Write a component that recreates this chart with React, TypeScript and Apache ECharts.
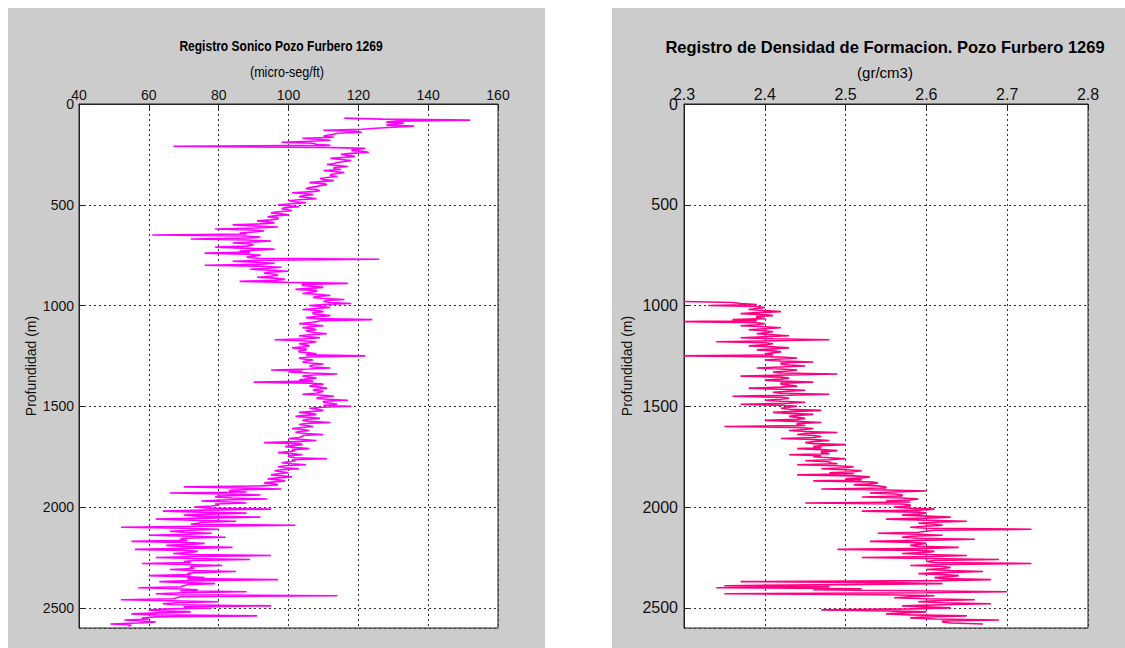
import React, { useEffect, useRef } from "react";
import * as echarts from "echarts";

// Sonic log (micro-seg/ft), sampled every 5 m starting at 70 m
const SONIC_START_DEPTH = 70;
const SONIC_STEP = 5;
const sonicValues = [
  116, 127, 152, 131, 128, 133,
  131, 128, 136, 130, 125, 121, 110, 119, 121, 114, 113, 111, 110, 113, 104, 108, 112, 106, 98, 107,
  108, 112, 67, 110, 122, 119, 118, 121, 123, 118, 115, 117, 119, 116, 112, 115, 118, 116, 114, 113,
  111, 114, 117, 113, 113, 115, 110, 113, 116, 114, 112, 112, 114, 111, 109, 110, 113, 109, 106, 110,
  111, 109, 108, 106, 105, 108, 109, 107, 101, 105, 107, 104, 103, 106, 108, 103, 100, 102, 105, 101,
  97, 100, 103, 99, 98, 100, 101, 97, 95, 98, 100, 96, 94, 97, 97, 95, 91, 94, 96, 92,
  84, 90, 97, 91, 79, 89, 93, 90, 86, 88, 61, 87, 92, 89, 72, 88, 95, 90, 84, 89,
  90, 88, 79, 87, 96, 90, 86, 89, 76, 88, 92, 90, 88, 91, 126, 93, 84, 91, 96, 92,
  76, 92, 98, 94, 89, 95, 100, 94, 93, 96, 97, 95, 91, 97, 99, 96, 86, 100, 117, 104,
  104, 107, 110, 106, 102, 108, 108, 106, 104, 109, 112, 108, 107, 110, 116, 111, 110, 112, 118, 110,
  106, 109, 112, 108, 104, 108, 110, 107, 107, 109, 112, 108, 105, 108, 124, 109, 108, 106, 103, 107,
  110, 106, 104, 107, 108, 105, 106, 108, 111, 106, 103, 106, 109, 105, 96, 104, 108, 106, 103, 105,
  106, 104, 101, 105, 105, 103, 103, 106, 108, 105, 122, 106, 103, 104, 107, 105, 104, 106, 110, 107,
  106, 107, 112, 106, 95, 104, 100, 106, 114, 107, 104, 106, 108, 105, 103, 107, 90, 106, 110, 107,
  106, 109, 111, 108, 107, 110, 109, 108, 104, 110, 113, 109, 108, 111, 117, 110, 110, 112, 114, 110,
  118, 110, 106, 108, 110, 107, 103, 106, 108, 105, 102, 106, 109, 105, 104, 106, 112, 105, 103, 105,
  107, 104, 101, 104, 106, 103, 102, 105, 110, 104, 104, 103, 100, 104, 108, 102, 93, 103, 104, 101,
  99, 102, 106, 101, 102, 100, 97, 101, 104, 100, 100, 102, 111, 101, 102, 100, 98, 101, 105, 99,
  97, 99, 103, 98, 96, 98, 100, 97, 95, 98, 101, 97, 94, 97, 99, 96, 93, 96, 97, 92,
  70, 86, 98, 84, 83, 88, 66, 82, 92, 80, 79, 84, 94, 81, 75, 83, 88, 79, 80, 78,
  73, 77, 95, 76, 64, 75, 88, 77, 70, 74, 92, 76, 62, 73, 85, 75, 74, 72, 102, 74,
  52, 71, 80, 72, 66, 70, 78, 71, 60, 72, 82, 70, 69, 71, 55, 69, 76, 72, 65, 70,
  84, 71, 56, 70, 74, 72, 67, 71, 95, 73, 62, 72, 89, 73, 70, 72, 58, 71, 81, 72,
  72, 73, 66, 72, 85, 73, 71, 72, 60, 70, 76, 71, 97, 72, 63, 70, 79, 71, 70, 69,
  57, 68, 74, 69, 88, 70, 62, 68, 114, 69, 68, 67, 52, 66, 80, 68, 64, 67, 95, 70,
  78, 66, 60, 64, 72, 63, 55, 62, 91, 62, 58, 60, 53, 58, 62, 57, 49, 55, 54,
];

// Formation density log (gr/cm3), sampled every 5 m starting at 980 m
const DENS_START_DEPTH = 980;
const DENS_STEP = 5;
const densityValues = [
  2.30, 2.36, 2.37, 2.39, 2.33, 2.39, 2.40, 2.39, 2.38, 2.40, 2.42, 2.39, 2.37, 2.40, 2.41, 2.39, 2.39, 2.40, 2.36, 2.39,
  2.30, 2.39, 2.40, 2.39, 2.37, 2.40, 2.42, 2.40, 2.38, 2.40, 2.41, 2.40, 2.39, 2.41, 2.43, 2.40, 2.37, 2.41, 2.48, 2.41,
  2.34, 2.40, 2.41, 2.40, 2.38, 2.41, 2.43, 2.41, 2.39, 2.41, 2.42, 2.41, 2.40, 2.41, 2.30, 2.42, 2.44, 2.42, 2.40, 2.42,
  2.46, 2.42, 2.42, 2.43, 2.45, 2.42, 2.39, 2.42, 2.44, 2.43, 2.41, 2.42, 2.49, 2.43, 2.37, 2.42, 2.43, 2.42, 2.40, 2.42,
  2.46, 2.42, 2.42, 2.43, 2.44, 2.42, 2.38, 2.42, 2.45, 2.43, 2.41, 2.42, 2.48, 2.43, 2.36, 2.42, 2.43, 2.42, 2.40, 2.42,
  2.45, 2.43, 2.37, 2.42, 2.44, 2.43, 2.42, 2.43, 2.47, 2.44, 2.41, 2.43, 2.46, 2.44, 2.43, 2.44, 2.45, 2.44, 2.40, 2.44,
  2.47, 2.44, 2.44, 2.45, 2.35, 2.44, 2.46, 2.45, 2.43, 2.45, 2.49, 2.45, 2.44, 2.46, 2.47, 2.46, 2.42, 2.46, 2.48, 2.46,
  2.45, 2.46, 2.50, 2.47, 2.46, 2.47, 2.44, 2.47, 2.49, 2.47, 2.47, 2.48, 2.43, 2.47, 2.46, 2.48, 2.50, 2.48, 2.45, 2.48,
  2.48, 2.49, 2.44, 2.49, 2.51, 2.50, 2.47, 2.50, 2.52, 2.51, 2.48, 2.51, 2.44, 2.51, 2.53, 2.52, 2.50, 2.52, 2.46, 2.53,
  2.54, 2.53, 2.51, 2.54, 2.55, 2.55, 2.47, 2.55, 2.60, 2.56, 2.53, 2.56, 2.57, 2.57, 2.52, 2.57, 2.59, 2.58, 2.55, 2.58,
  2.45, 2.57, 2.58, 2.58, 2.56, 2.58, 2.61, 2.59, 2.52, 2.59, 2.60, 2.59, 2.57, 2.60, 2.63, 2.60, 2.55, 2.60, 2.65, 2.61,
  2.59, 2.61, 2.62, 2.60, 2.58, 2.60, 2.73, 2.61, 2.60, 2.59, 2.54, 2.59, 2.62, 2.58, 2.57, 2.59, 2.66, 2.59, 2.53, 2.58,
  2.60, 2.59, 2.58, 2.59, 2.64, 2.60, 2.49, 2.59, 2.61, 2.60, 2.57, 2.60, 2.65, 2.61, 2.52, 2.60, 2.69, 2.61, 2.60, 2.61,
  2.73, 2.62, 2.58, 2.62, 2.63, 2.62, 2.60, 2.63, 2.67, 2.62, 2.59, 2.62, 2.64, 2.63, 2.61, 2.62, 2.68, 2.62, 2.37, 2.55,
  2.62, 2.50, 2.35, 2.48, 2.34, 2.52, 2.46, 2.58, 2.70, 2.60, 2.35, 2.55, 2.61, 2.58, 2.56, 2.60, 2.66, 2.61, 2.59, 2.62,
  2.68, 2.62, 2.57, 2.60, 2.63, 2.58, 2.47, 2.55, 2.60, 2.57, 2.55, 2.58, 2.65, 2.60, 2.58, 2.61, 2.69, 2.62, 2.62, 2.63,
  2.67,
];

const sonicTicks = { min: 40, max: 160, interval: 20 };
const densTicks = { min: 2.3, max: 2.8, interval: 0.1 };
const depthTicks = { min: 0, max: 2600, interval: 500 };

const ARIAL = "'Liberation Sans', Arial, sans-serif";

export default function App() {
  const ref = useRef<HTMLDivElement>(null);

  useEffect(() => {
    if (!ref.current) return;
    const chart = echarts.init(ref.current, undefined, { renderer: "svg" });

    const sonicData = sonicValues.map((v, i) => [v, SONIC_START_DEPTH + i * SONIC_STEP]);
    const densData = densityValues.map((v, i) => [v, DENS_START_DEPTH + i * DENS_STEP]);

    const splitLine = { show: true, lineStyle: { color: "#333", type: [2, 3], width: 1 } };

    const mkX = (gi: number, t: any, size: number) => ({
      type: "value",
      gridIndex: gi,
      position: "top",
      min: t.min,
      max: t.max,
      interval: t.interval,
      axisLine: { show: true, lineStyle: { color: "#222" } },
      axisTick: { show: true, inside: true, length: 5, lineStyle: { color: "#222" } },
      axisLabel: { margin: 2, color: "#111", fontFamily: ARIAL, fontSize: size },
      splitLine,
    });
    const mkY = (gi: number, size: number, gap: number, margin: number) => ({
      type: "value",
      gridIndex: gi,
      inverse: true,
      min: depthTicks.min,
      max: depthTicks.max,
      interval: depthTicks.interval,
      name: "Profundidad (m)",
      nameLocation: "middle",
      nameRotate: 90,
      nameGap: gap,
      nameTextStyle: { fontFamily: ARIAL, fontSize: 14, color: "#111" },
      axisLine: { show: true, lineStyle: { color: "#222" } },
      axisTick: { show: true, inside: true, length: 5, lineStyle: { color: "#222" } },
      axisLabel: {
        margin: margin, color: "#111", fontFamily: ARIAL, fontSize: size, showMaxLabel: false,
        formatter: (v: number) => String(v),
      },
      splitLine,
    });

    chart.setOption({
      animation: false,
      backgroundColor: "#ffffff",
      graphic: [
        { type: "rect", silent: true, z: -10, shape: { x: 8, y: 8, width: 537, height: 640 }, style: { fill: "#cccccc" } },
        { type: "rect", silent: true, z: -10, shape: { x: 612, y: 8, width: 513, height: 640 }, style: { fill: "#cccccc" } },
        {
          type: "text", x: 281, y: 46, scaleX: 0.86,
          style: { text: "Registro Sonico Pozo Furbero 1269", align: "center", verticalAlign: "middle", fontFamily: ARIAL, fontWeight: "bold", fontSize: 14, fill: "#000" },
        },
        {
          type: "text", x: 287, y: 72, scaleX: 0.9,
          style: { text: "(micro-seg/ft)", align: "center", verticalAlign: "middle", fontFamily: ARIAL, fontSize: 14, fill: "#000" },
        },
        {
          type: "text", x: 885, y: 47,
          style: { text: "Registro de Densidad de Formacion. Pozo Furbero 1269", align: "center", verticalAlign: "middle", fontFamily: ARIAL, fontWeight: "bold", fontSize: 16.5, fill: "#000" },
        },
        {
          type: "text", x: 885, y: 72,
          style: { text: "(gr/cm3)", align: "center", verticalAlign: "middle", fontFamily: ARIAL, fontSize: 15, fill: "#000" },
        },
      ],
      grid: [
        { left: 79, top: 104, width: 419, height: 524, show: true, backgroundColor: "#fff", borderColor: "#222", borderWidth: 1 },
        { left: 684, top: 104, width: 404, height: 524, show: true, backgroundColor: "#fff", borderColor: "#222", borderWidth: 1 },
      ],
      xAxis: [mkX(0, sonicTicks, 14), mkX(1, densTicks, 16)],
      yAxis: [mkY(0, 14, 41, 5), mkY(1, 16, 50, 6)],
      series: [
        {
          type: "line", xAxisIndex: 0, yAxisIndex: 0, data: sonicData, symbol: "none",
          lineStyle: { color: "#ff00ff", width: 1.6 }, itemStyle: { color: "#ff00ff" },
        },
        {
          type: "line", xAxisIndex: 1, yAxisIndex: 1, data: densData, symbol: "none",
          lineStyle: { color: "#ff0080", width: 1.6 }, itemStyle: { color: "#ff0080" },
        },
      ],
    });

    return () => chart.dispose();
  }, []);

  return <div ref={ref} style={{ position: "fixed", left: 0, top: 0, width: 1125, height: 648 }} />;
}
